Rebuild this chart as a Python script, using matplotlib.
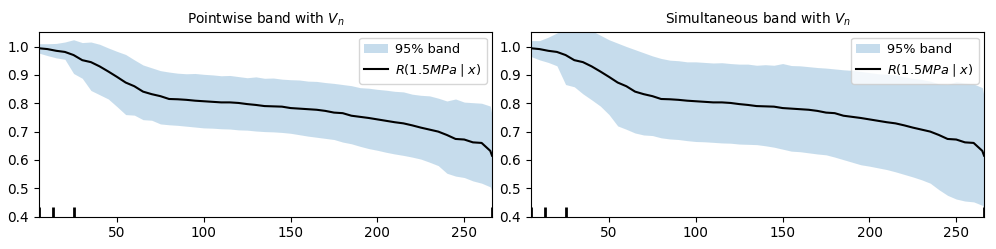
import numpy as np
import matplotlib
matplotlib.use("Agg")
import matplotlib.pyplot as plt

x = [5, 10, 15, 20, 25, 30, 35, 40, 45, 50, 55, 60, 65, 70, 75, 80, 85, 90, 95, 100,
     105, 110, 115, 120, 125, 130, 135, 140, 145, 150, 155, 160, 165, 170, 175, 180,
     185, 190, 195, 200, 205, 210, 215, 220, 225, 230, 235, 240, 245, 250, 255, 260,
     265, 266]

curve = [0.994, 0.991, 0.985, 0.981, 0.970, 0.952, 0.945, 0.930, 0.912, 0.893, 0.873,
         0.860, 0.841, 0.832, 0.825, 0.815, 0.814, 0.812, 0.809, 0.807, 0.805, 0.803,
         0.803, 0.801, 0.797, 0.794, 0.790, 0.789, 0.788, 0.783, 0.781, 0.779, 0.777,
         0.773, 0.767, 0.765, 0.756, 0.752, 0.748, 0.743, 0.738, 0.733, 0.729, 0.722,
         0.714, 0.707, 0.700, 0.688, 0.674, 0.672, 0.662, 0.660, 0.632, 0.615]

pw_upper = [1.010, 1.010, 1.011, 1.016, 1.024, 1.014, 1.016, 1.008, 0.995, 0.983, 0.972,
            0.953, 0.935, 0.925, 0.915, 0.910, 0.906, 0.904, 0.905, 0.902, 0.900, 0.897,
            0.898, 0.894, 0.890, 0.893, 0.888, 0.889, 0.885, 0.883, 0.882, 0.878, 0.877,
            0.873, 0.870, 0.866, 0.862, 0.855, 0.853, 0.849, 0.846, 0.842, 0.840, 0.832,
            0.828, 0.826, 0.818, 0.808, 0.815, 0.804, 0.802, 0.800, 0.790, 0.757]

pw_lower = [0.977, 0.968, 0.960, 0.955, 0.905, 0.888, 0.845, 0.830, 0.815, 0.788, 0.760,
            0.758, 0.742, 0.740, 0.727, 0.724, 0.722, 0.719, 0.716, 0.713, 0.712, 0.710,
            0.709, 0.706, 0.705, 0.702, 0.700, 0.699, 0.697, 0.694, 0.689, 0.684, 0.680,
            0.676, 0.672, 0.663, 0.657, 0.648, 0.640, 0.634, 0.627, 0.621, 0.616, 0.610,
            0.603, 0.592, 0.580, 0.553, 0.543, 0.538, 0.526, 0.518, 0.505, 0.488]

sim_upper = [1.021, 1.021, 1.033, 1.048, 1.060, 1.060, 1.060, 1.056, 1.040, 1.024, 1.012,
             1.000, 0.989, 0.978, 0.967, 0.958, 0.952, 0.950, 0.946, 0.946, 0.944, 0.942,
             0.943, 0.940, 0.938, 0.938, 0.934, 0.936, 0.934, 0.940, 0.933, 0.932, 0.929,
             0.926, 0.924, 0.921, 0.918, 0.916, 0.912, 0.908, 0.904, 0.902, 0.900, 0.893,
             0.888, 0.884, 0.878, 0.868, 0.866, 0.876, 0.871, 0.868, 0.855, 0.824]

sim_lower = [0.965, 0.953, 0.944, 0.932, 0.866, 0.858, 0.833, 0.812, 0.790, 0.760, 0.720,
             0.708, 0.695, 0.688, 0.686, 0.678, 0.674, 0.672, 0.668, 0.665, 0.664, 0.662,
             0.660, 0.659, 0.656, 0.655, 0.654, 0.650, 0.645, 0.638, 0.631, 0.629, 0.625,
             0.621, 0.618, 0.610, 0.601, 0.592, 0.583, 0.578, 0.572, 0.566, 0.558, 0.549,
             0.540, 0.530, 0.518, 0.495, 0.475, 0.462, 0.455, 0.452, 0.440, 0.429]

rug = [5, 13, 25, 266]

titles = [r"Pointwise band with $V_n$", r"Simultaneous band with $V_n$"]
bands = [(pw_lower, pw_upper), (sim_lower, sim_upper)]

fig = plt.figure(figsize=(9.96, 2.49), dpi=100)
positions = [[0.039, 0.130, 0.455, 0.740], [0.533, 0.130, 0.455, 0.740]]

for pos, title, (lo, hi) in zip(positions, titles, bands):
    ax = fig.add_axes(pos)
    ax.fill_between(x, lo, hi, color="C0", alpha=0.25, lw=0, label="95% band")
    ax.plot(x, curve, color="black", lw=1.5, label=r"$R(1.5MPa\mid x)$")
    ax.vlines(rug, 0.4, 0.433, color="black", lw=2)
    ax.set_xlim(5, 266)
    ax.set_ylim(0.4, 1.05)
    ax.set_xticks([50, 100, 150, 200, 250])
    ax.set_yticks([0.4, 0.5, 0.6, 0.7, 0.8, 0.9, 1.0])
    ax.set_title(title, fontsize=9.8)
    ax.tick_params(labelsize=9.8)
    ax.legend(loc="upper right", fontsize=9.3, handlelength=1.8, handletextpad=0.6,
              borderaxespad=0.4)

fig.savefig("out.png", dpi=100)
